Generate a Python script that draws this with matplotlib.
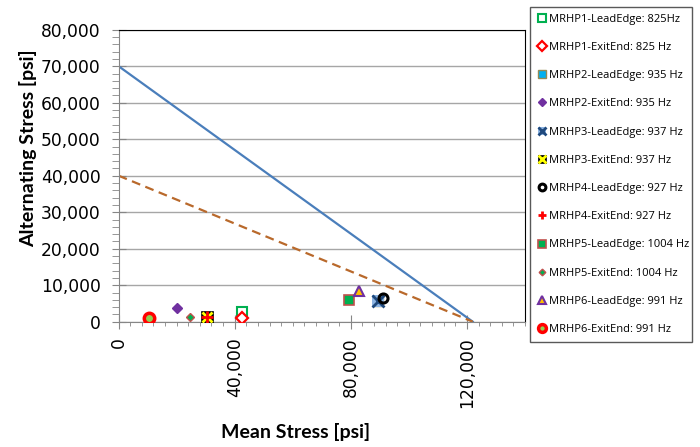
import numpy as np
import matplotlib.pyplot as plt
from matplotlib.ticker import MultipleLocator, FuncFormatter
from matplotlib.legend_handler import HandlerTuple

#----------- datos -------------------#
series_labels = ['MRHP1-LeadEdge: 825Hz', 'MRHP1-ExitEnd: 825 Hz',
                 'MRHP2-LeadEdge: 935 Hz', 'MRHP2-ExitEnd: 935 Hz',
                 'MRHP3-LeadEdge: 937 Hz', 'MRHP3-ExitEnd: 937 Hz',
                 'MRHP4-LeadEdge: 927 Hz', 'MRHP4-ExitEnd: 927 Hz',
                 'MRHP5-LeadEdge: 1004 Hz', 'MRHP5-ExitEnd: 1004 Hz',
                 'MRHP6-LeadEdge: 991 Hz', 'MRHP6-ExitEnd: 991 Hz']
mean_stress = [42600, 42600, 89300, 20200, 89300, 30300,
               91000, 30300, 79400, 24600, 82700, 10500]
alt_stress = [2700, 1100, 5700, 3700, 5700, 1200,
              6600, 1200, 5900, 1200, 8400, 1100]

# lineas de Goodman
line_mean = [0, 122000]
line_solid = [70000, 0]
line_dashed = [40000, 0]

x_ticks = [0, 40000, 80000, 120000]

#----------- estilos -------------------#
# cada serie: lista de capas (marker, size, face, edge, mew)
styles = [
    [('s', 7, 'white', '#00B050', 1.5)],
    [('D', 6.5, 'white', '#FF0000', 1.6)],
    [('s', 7, '#00B0F0', '#948A54', 1.0)],
    [('D', 5.5, '#7030A0', '#7030A0', 1.0)],
    [('s', 8, '#8DB4E2', 'none', 0), ('x', 8, '#1F497D', '#1F497D', 2.0)],
    [('s', 8.5, 'black', 'black', 0.5), ('x', 7, '#FFFF00', '#FFFF00', 2.0)],
    [('o', 6.5, 'none', 'black', 2.2)],
    [('+', 8, '#FF0000', '#FF0000', 2.0)],
    [('s', 7, '#00B050', '#C0504D', 1.2)],
    [('D', 4.5, '#00B050', '#C0504D', 1.0)],
    [('^', 7.5, '#FFC000', '#7030A0', 1.5)],
    [('o', 7.5, '#92D050', '#FF0000', 2.5)],
]

fig = plt.figure(figsize=(7, 4.47), dpi=100)
ax = fig.add_axes([118.6 / 700, 1 - 321.7 / 447, 406.4 / 700, 292.0 / 447])

ax.plot(line_mean, line_solid, color='#4A7EBB', lw=1.6, zorder=2)
ax.plot(line_mean, line_dashed, color='#B9692B', lw=1.6, ls=(0, (4, 2.5)), zorder=2)

handles = []
for i in range(len(series_labels)):
    capas = []
    for (m, ms, fc, ec, mew) in styles[i]:
        h, = ax.plot([mean_stress[i]], [alt_stress[i]], ls='none', marker=m,
                     markersize=ms, markerfacecolor=fc, markeredgecolor=ec,
                     markeredgewidth=mew, zorder=3 + i)
        capas.append(h)
    handles.append(tuple(capas) if len(capas) > 1 else capas[0])

ax.set_xlim(0, 140000)
ax.set_ylim(0, 80000)
ax.set_xticks(x_ticks)
ax.xaxis.set_minor_locator(MultipleLocator(4000))
ax.yaxis.set_major_locator(MultipleLocator(10000))
ax.yaxis.set_minor_locator(MultipleLocator(2000))
fmt = FuncFormatter(lambda v, p: f'{int(v):,}')
ax.xaxis.set_major_formatter(fmt)
ax.yaxis.set_major_formatter(fmt)

ax.grid(True, axis='y', which='major', color='#A6A6A6', lw=1)
ax.set_axisbelow(True)

ax.tick_params(axis='both', which='major', direction='inout', length=10,
               color='#868686', labelsize=12.3)
ax.tick_params(axis='y', which='major', pad=8)
ax.tick_params(axis='x', which='major', pad=6, labelrotation=90)
ax.tick_params(axis='y', which='minor', direction='out', length=5, color='#868686')
ax.tick_params(axis='x', which='minor', direction='out', length=3, color='#868686')

for s in ['left', 'bottom']:
    ax.spines[s].set_color('#868686')
for s in ['top', 'right']:
    ax.spines[s].set_color('black')

fig.text(28 / 700, 1 - 148 / 447, 'Alternating Stress [psi]', rotation=90,
         ha='center', va='center', fontsize=14, fontweight='bold', family='Lato')
fig.text(296 / 700, 1 - 432 / 447, 'Mean Stress [psi]',
         ha='center', va='center', fontsize=14, fontweight='bold', family='Lato')

leg = fig.legend(handles, series_labels, loc='upper left',
                 bbox_to_anchor=(530 / 700, 1 - 344 / 447, 162 / 700, 337 / 447),
                 mode='expand', frameon=True, fancybox=False, framealpha=1,
                 edgecolor='#595959', borderaxespad=0, borderpad=0.6,
                 labelspacing=1.55, handlelength=0.9, handletextpad=0.25,
                 markerscale=0.75, prop={'family': 'Open Sans', 'size': 8},
                 handler_map={tuple: HandlerTuple(ndivide=1, pad=0)})
leg.get_frame().set_linewidth(1)

plt.savefig('out.png', dpi=100)
